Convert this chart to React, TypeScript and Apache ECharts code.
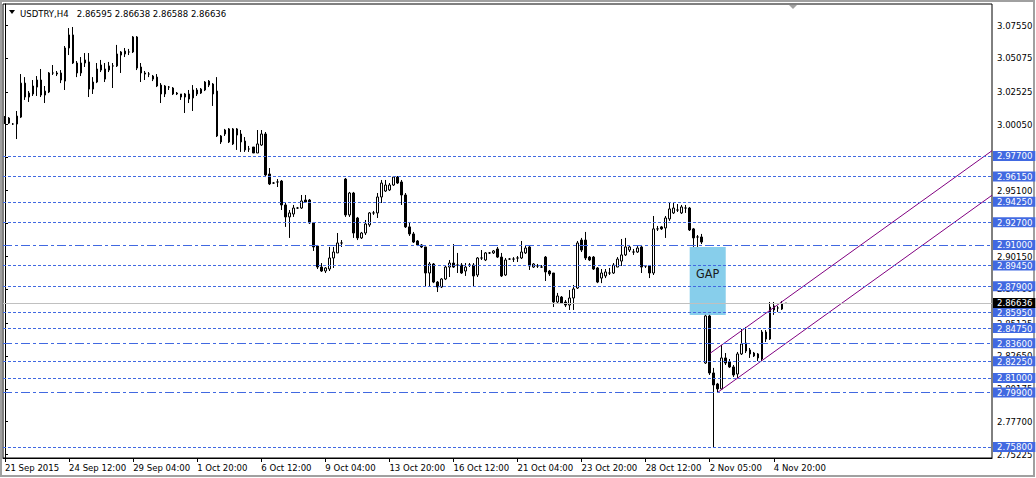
import React, { useEffect, useRef } from 'react';
import * as echarts from 'echarts';

const FONT = "'DejaVu Sans Condensed', 'Liberation Sans', sans-serif";

// [open, close, low, high] — USDTRY H4 bars
const candles: number[][] = [
  [3.0017, 3.0055, 3.0010, 3.0070], [3.0055, 3.0017, 3.0010, 3.0062], [3.0010, 3.0010, 3.0003, 3.0017], [3.0010, 3.0070, 2.9897, 3.0108],
  [3.0062, 3.0318, 3.0055, 3.0386], [3.0318, 3.0213, 3.0191, 3.0363], [3.0213, 3.0243, 3.0176, 3.0258], [3.0236, 3.0296, 3.0221, 3.0341],
  [3.0288, 3.0341, 3.0221, 3.0371], [3.0341, 3.0228, 3.0213, 3.0424], [3.0228, 3.0258, 3.0168, 3.0296], [3.0251, 3.0394, 3.0243, 3.0401],
  [3.0394, 3.0394, 3.0379, 3.0454], [3.0394, 3.0386, 3.0371, 3.0409], [3.0394, 3.0341, 3.0318, 3.0416], [3.0333, 3.0582, 3.0266, 3.0597],
  [3.0582, 3.0680, 3.0529, 3.0732], [3.0680, 3.0469, 3.0462, 3.0740], [3.0469, 3.0394, 3.0363, 3.0484], [3.0394, 3.0469, 3.0371, 3.0514],
  [3.0469, 3.0492, 3.0439, 3.0544], [3.0477, 3.0273, 3.0213, 3.0544], [3.0273, 3.0326, 3.0236, 3.0363], [3.0326, 3.0424, 3.0318, 3.0469],
  [3.0416, 3.0454, 3.0401, 3.0492], [3.0348, 3.0424, 3.0326, 3.0469], [3.0416, 3.0447, 3.0401, 3.0477], [3.0447, 3.0447, 3.0281, 3.0469],
  [3.0447, 3.0537, 3.0439, 3.0605], [3.0529, 3.0552, 3.0394, 3.0559], [3.0537, 3.0559, 3.0514, 3.0582], [3.0552, 3.0552, 3.0529, 3.0575],
  [3.0552, 3.0665, 3.0544, 3.0672], [3.0665, 3.0431, 3.0416, 3.0672], [3.0439, 3.0394, 3.0326, 3.0469], [3.0394, 3.0386, 3.0341, 3.0409],
  [3.0386, 3.0386, 3.0363, 3.0401], [3.0371, 3.0348, 3.0333, 3.0379], [3.0363, 3.0296, 3.0288, 3.0386], [3.0303, 3.0236, 3.0168, 3.0318],
  [3.0236, 3.0296, 3.0213, 3.0303], [3.0288, 3.0288, 3.0266, 3.0296], [3.0281, 3.0236, 3.0228, 3.0288], [3.0243, 3.0236, 3.0228, 3.0251],
  [3.0236, 3.0213, 3.0191, 3.0236], [3.0213, 3.0236, 3.0093, 3.0243], [3.0236, 3.0198, 3.0168, 3.0266], [3.0206, 3.0266, 3.0108, 3.0303],
  [3.0236, 3.0266, 3.0221, 3.0281], [3.0243, 3.0273, 3.0236, 3.0281], [3.0266, 3.0326, 3.0258, 3.0333], [3.0333, 3.0303, 3.0288, 3.0341],
  [3.0311, 3.0236, 3.0146, 3.0318], [3.0258, 2.9920, 2.9912, 3.0363], [2.9920, 2.9875, 2.9860, 2.9927], [2.9935, 2.9965, 2.9920, 2.9973],
  [2.9973, 2.9875, 2.9867, 2.9980], [2.9860, 2.9973, 2.9852, 2.9980], [2.9973, 2.9927, 2.9815, 2.9980], [2.9935, 2.9875, 2.9800, 2.9965],
  [2.9882, 2.9815, 2.9800, 2.9912], [2.9822, 2.9822, 2.9800, 2.9845], [2.9837, 2.9792, 2.9792, 2.9837], [2.9792, 2.9860, 2.9792, 2.9965],
  [2.9852, 2.9935, 2.9845, 2.9965], [2.9935, 2.9627, 2.9611, 2.9950], [2.9634, 2.9559, 2.9551, 2.9679], [2.9566, 2.9566, 2.9559, 2.9574],
  [2.9574, 2.9574, 2.9536, 2.9596], [2.9581, 2.9401, 2.9363, 2.9589], [2.9401, 2.9311, 2.9236, 2.9423], [2.9311, 2.9341, 2.9153, 2.9363],
  [2.9333, 2.9378, 2.9311, 2.9401], [2.9378, 2.9378, 2.9371, 2.9386], [2.9378, 2.9431, 2.9371, 2.9476], [2.9438, 2.9423, 2.9416, 2.9476],
  [2.9438, 2.9266, 2.9258, 2.9446], [2.9266, 2.9085, 2.9055, 2.9273], [2.9092, 2.8934, 2.8919, 2.9100], [2.8934, 2.8904, 2.8897, 2.8964],
  [2.8904, 2.8927, 2.8889, 2.8934], [2.8919, 2.9002, 2.8904, 2.9085], [2.9002, 2.9047, 2.8927, 2.9085], [2.9040, 2.9115, 2.9040, 2.9190],
  [2.9115, 2.9115, 2.9085, 2.9137], [2.9596, 2.9326, 2.9311, 2.9604], [2.9326, 2.9491, 2.9311, 2.9499], [2.9491, 2.9190, 2.9153, 2.9499],
  [2.9303, 2.9153, 2.9137, 2.9311], [2.9153, 2.9190, 2.9145, 2.9198], [2.9190, 2.9258, 2.9175, 2.9288], [2.9251, 2.9341, 2.9236, 2.9348],
  [2.9341, 2.9341, 2.9326, 2.9356], [2.9341, 2.9461, 2.9303, 2.9491], [2.9461, 2.9566, 2.9416, 2.9589], [2.9506, 2.9551, 2.9499, 2.9589],
  [2.9514, 2.9551, 2.9506, 2.9566], [2.9551, 2.9611, 2.9544, 2.9611], [2.9611, 2.9566, 2.9559, 2.9619], [2.9574, 2.9476, 2.9401, 2.9589],
  [2.9476, 2.9236, 2.9228, 2.9491], [2.9236, 2.9183, 2.9168, 2.9266], [2.9183, 2.9122, 2.9115, 2.9198], [2.9130, 2.9100, 2.9092, 2.9137],
  [2.9100, 2.9085, 2.9077, 2.9107], [2.9085, 2.8889, 2.8784, 2.9085], [2.8889, 2.8957, 2.8784, 2.8972], [2.8957, 2.8821, 2.8813, 2.8964],
  [2.8821, 2.8784, 2.8746, 2.8829], [2.8784, 2.8844, 2.8776, 2.8851], [2.8844, 2.8934, 2.8836, 2.8942], [2.8934, 2.8964, 2.8859, 2.8987],
  [2.8964, 2.8934, 2.8927, 2.9107], [2.8949, 2.8949, 2.8889, 2.9040], [2.8949, 2.8889, 2.8882, 2.8964], [2.8904, 2.8934, 2.8867, 2.8964],
  [2.8949, 2.8949, 2.8934, 2.8964], [2.8949, 2.8867, 2.8791, 2.8964], [2.8874, 2.9002, 2.8859, 2.9009], [2.9002, 2.9002, 2.8987, 2.9062],
  [2.8987, 2.9040, 2.8979, 2.9047], [2.9040, 2.9040, 2.9032, 2.9047], [2.9040, 2.9055, 2.9032, 2.9062], [2.9070, 2.9009, 2.9002, 2.9085],
  [2.9009, 2.8867, 2.8859, 2.9040], [2.8874, 2.8987, 2.8867, 2.9002], [2.8994, 2.8994, 2.8987, 2.9002], [2.8994, 2.8994, 2.8972, 2.9009],
  [2.9002, 2.9002, 2.8972, 2.9017], [2.9002, 2.9047, 2.8994, 2.9130], [2.9040, 2.9077, 2.9032, 2.9100], [2.9085, 2.8942, 2.8912, 2.9092],
  [2.8934, 2.8957, 2.8927, 2.8964], [2.8942, 2.8942, 2.8927, 2.8957], [2.8934, 2.8934, 2.8927, 2.8949], [2.9009, 2.8897, 2.8829, 2.9017],
  [2.8904, 2.8882, 2.8867, 2.8912], [2.8889, 2.8671, 2.8633, 2.8889], [2.8671, 2.8716, 2.8663, 2.8739], [2.8708, 2.8663, 2.8656, 2.8716],
  [2.8671, 2.8648, 2.8633, 2.8686], [2.8648, 2.8701, 2.8611, 2.8761], [2.8701, 2.8769, 2.8611, 2.8799], [2.8776, 2.9115, 2.8769, 2.9130],
  [2.9137, 2.9062, 2.9047, 2.9153], [2.9137, 2.9002, 2.8987, 2.9198], [2.9009, 2.8987, 2.8979, 2.9017], [2.9009, 2.8919, 2.8912, 2.9017],
  [2.8927, 2.8821, 2.8813, 2.8934], [2.8851, 2.8889, 2.8813, 2.8919], [2.8867, 2.8897, 2.8851, 2.8919], [2.8889, 2.8889, 2.8874, 2.8927],
  [2.8889, 2.8949, 2.8882, 2.8964], [2.8934, 2.8994, 2.8934, 2.9009], [2.8979, 2.9025, 2.8942, 2.9145], [2.9025, 2.9085, 2.9017, 2.9153],
  [2.9062, 2.9085, 2.9047, 2.9100], [2.9047, 2.9047, 2.9025, 2.9070], [2.9047, 2.9077, 2.9040, 2.9092], [2.9085, 2.8934, 2.8889, 2.9100],
  [2.8942, 2.8942, 2.8927, 2.8949], [2.8942, 2.8889, 2.8851, 2.8949], [2.8889, 2.9221, 2.8874, 2.9318], [2.9221, 2.9221, 2.9205, 2.9243],
  [2.9236, 2.9221, 2.9213, 2.9243], [2.9228, 2.9303, 2.9153, 2.9318], [2.9296, 2.9371, 2.9281, 2.9416], [2.9341, 2.9378, 2.9333, 2.9416],
  [2.9363, 2.9363, 2.9348, 2.9408], [2.9341, 2.9386, 2.9333, 2.9401], [2.9378, 2.9378, 2.9341, 2.9401], [2.9378, 2.9213, 2.9205, 2.9386],
  [2.9221, 2.9153, 2.9085, 2.9228], [2.9160, 2.9160, 2.9085, 2.9175], [2.9160, 2.9122, 2.9107, 2.9183], [2.8212, 2.8566, 2.8205, 2.8574],
  [2.8566, 2.8137, 2.8122, 2.8574], [2.8137, 2.8047, 2.7580, 2.8175], [2.8054, 2.8017, 2.7987, 2.8062], [2.8017, 2.8250, 2.8009, 2.8348],
  [2.8250, 2.8212, 2.8197, 2.8287], [2.8220, 2.8182, 2.8175, 2.8242], [2.8182, 2.8122, 2.8107, 2.8197], [2.8129, 2.8280, 2.8099, 2.8295],
  [2.8280, 2.8355, 2.8272, 2.8468], [2.8362, 2.8302, 2.8287, 2.8483], [2.8310, 2.8280, 2.8250, 2.8325], [2.8287, 2.8265, 2.8257, 2.8295],
  [2.8280, 2.8250, 2.8227, 2.8287], [2.8242, 2.8445, 2.8227, 2.8460], [2.8445, 2.8392, 2.8370, 2.8460], [2.8392, 2.8633, 2.8385, 2.8671],
  [2.8641, 2.8611, 2.8574, 2.8671], [2.8626, 2.8626, 2.8596, 2.8641], [2.8618, 2.8656, 2.8611, 2.8678], [2.86595, 2.86636, 2.86588, 2.86638],
];

const SLOTS = 247; // bar slots across the chart (incl. empty right shift)
const timeLabels = ['21 Sep 2015', '24 Sep 12:00', '29 Sep 04:00', '1 Oct 20:00', '6 Oct 12:00', '9 Oct 04:00', '13 Oct 20:00',
  '16 Oct 12:00', '21 Oct 04:00', '23 Oct 20:00', '28 Oct 12:00', '2 Nov 05:00', '4 Nov 20:00'];
const LABEL_STEP = 16;
const priceTicks = [3.0755, 3.05075, 3.02525, 3.0005, 2.97575, 2.951, 2.92625, 2.9015, 2.877, 2.85125, 2.8265, 2.80175, 2.777, 2.75225];
const levels = [2.977, 2.9615, 2.9425, 2.927, 2.91, 2.8945, 2.879, 2.8595, 2.8475, 2.836, 2.8225, 2.81, 2.799, 2.758];
const dashDotLevels = [2.91, 2.836, 2.799];
const currentPrice = 2.86636;
const gapBars = [171, 180];
const gapPrices = [2.9085, 2.8573];
const channelUpper = [[176.1, 2.8285], [246.5, 2.9809]];
const channelLower = [[177.9, 2.7989], [246.5, 2.9474]];
const yMin = 2.74972;
const yMax = 3.0913;

const categories = Array.from({ length: SLOTS }, (_, i) => String(i));

export default function App() {
  const ref = useRef<HTMLDivElement>(null);
  useEffect(() => {
    document.body.style.margin = '0';
    const chart = echarts.init(ref.current!, null, { renderer: 'svg' });
    const showTick = (i: number) => i % LABEL_STEP === 0 && i / LABEL_STEP < timeLabels.length;
    const lblBase = {
      show: true, position: 'end', distance: 1, fontSize: 9.5, fontFamily: FONT,
      lineHeight: 9, padding: [1, 3, 0, 4], color: '#fff',
      formatter: (p: any) => Number(p.value).toFixed(5),
    };
    const option: any = {
      animation: false,
      grid: { left: 3, top: 4, width: 989, height: 454, show: true, borderColor: '#000', borderWidth: 1, backgroundColor: '#fff' },
      xAxis: [
        {
          type: 'category', data: categories, boundaryGap: true,
          axisLine: { show: true, lineStyle: { color: '#000' } },
          axisTick: { show: true, alignWithLabel: true, interval: (i: number) => showTick(i), length: 4, lineStyle: { color: '#000' } },
          axisLabel: {
            interval: (i: number) => showTick(i), formatter: (_v: string, i: number) => timeLabels[i / LABEL_STEP] ?? '',
            align: 'left', margin: 4, fontSize: 9.5, color: '#000', fontFamily: FONT,
          },
          splitLine: { show: false },
        },
        { type: 'value', min: -0.5, max: SLOTS - 0.5, show: false },
      ],
      yAxis: {
        type: 'value', position: 'right', min: yMin, max: yMax,
        axisLine: { show: true, lineStyle: { color: '#000' } },
        axisTick: { show: true, customValues: priceTicks, length: 3, lineStyle: { color: '#000' } },
        axisLabel: { customValues: priceTicks, formatter: (v: number) => v.toFixed(5), margin: 5, fontSize: 9.5, color: '#000', fontFamily: FONT },
        splitLine: { show: false },
      },
      series: [
        {
          type: 'line', xAxisIndex: 1, data: [], z: 1, silent: true,
          markLine: {
            symbol: ['none', 'none'], silent: true, animation: false, precision: 5,
            data: [
              ...levels.map((v) => ({
                yAxis: v,
                lineStyle: { color: '#4169E1', width: 1, type: dashDotLevels.includes(v) ? [9, 3, 3, 3] : [3, 2] },
                label: { ...lblBase, backgroundColor: '#4169E1' },
              })),
              {
                yAxis: currentPrice,
                lineStyle: { color: '#C0C0C0', width: 1, type: 'solid' },
                label: { ...lblBase, backgroundColor: '#000' },
              },
            ],
          },
        },
        {
          type: 'line', xAxisIndex: 1, data: [], z: 2, silent: true,
          markArea: {
            silent: true,
            itemStyle: { color: '#87CEEB', opacity: 1 },
            label: { show: true, position: 'insideTop', distance: 20, color: '#1a1a1a', fontSize: 12.5, fontFamily: FONT },
            data: [[{ name: 'GAP', xAxis: gapBars[0], yAxis: gapPrices[0] }, { xAxis: gapBars[1], yAxis: gapPrices[1] }]],
          },
        },
        {
          type: 'candlestick', data: candles, barWidth: 2, z: 3,
          itemStyle: { color: '#fff', color0: '#000', borderColor: '#000', borderColor0: '#000', borderColorDoji: '#000', borderWidth: 1 },
        },
        {
          type: 'line', xAxisIndex: 1, data: channelUpper, z: 4, showSymbol: false, silent: true,
          lineStyle: { color: '#800080', width: 1 },
        },
        {
          type: 'line', xAxisIndex: 1, data: channelLower, z: 4, showSymbol: false, silent: true,
          lineStyle: { color: '#800080', width: 1 },
        },
      ],
      graphic: [
        { type: 'rect', shape: { x: 1, y: 1, width: 1033, height: 475 }, style: { fill: 'none', stroke: '#a0a0a0', lineWidth: 2 }, silent: true },
        { type: 'polygon', shape: { points: [[9, 10], [15, 10], [12, 14]] }, style: { fill: '#000' }, silent: true },
        {
          type: 'text', x: 20, y: 13, silent: true,
          style: { text: 'USDTRY,H4\u00a0\u00a0 2.86595 2.86638 2.86588 2.86636', fill: '#000', fontSize: 9.5, fontFamily: FONT, verticalAlign: 'middle' },
        },
        { type: 'polygon', shape: { points: [[789, 5], [797, 5], [793, 9]] }, style: { fill: '#a0a0a0' }, silent: true },
      ],
    };
    chart.setOption(option);
    return () => chart.dispose();
  }, []);
  return <div ref={ref} style={{ width: 1036, height: 478, background: '#fff' }} />;
}
